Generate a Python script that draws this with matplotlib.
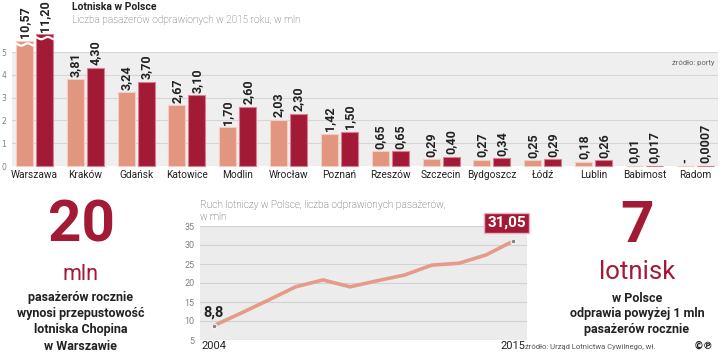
import numpy as np
import matplotlib
matplotlib.use("Agg")
import matplotlib.pyplot as plt

CRIMSON = "#A31A37"; SALMON = "#E2957F"; LINE_C = "#E59B87"; INK = "#222222"; GREY = "#808080"
SANS = ["Roboto", "DejaVu Sans"]

# bar chart data (mln passengers)
airports = ["Warszawa", "Kraków", "Gdańsk", "Katowice", "Modlin", "Wrocław", "Poznań",
            "Rzeszów", "Szczecin", "Bydgoszcz", "Łódź", "Lublin", "Babimost", "Radom"]
prev = [10.57, 3.81, 3.24, 2.67, 1.70, 2.03, 1.42, 0.65, 0.29, 0.27, 0.25, 0.18, 0.01, 0.0]
y2015 = [11.20, 4.30, 3.70, 3.10, 2.60, 2.30, 1.50, 0.65, 0.40, 0.34, 0.29, 0.26, 0.017, 0.0007]
prev_lbl = ["10,57", "3,81", "3,24", "2,67", "1,70", "2,03", "1,42", "0,65", "0,29", "0,27", "0,25", "0,18", "0,01", "-"]
y2015_lbl = ["11,20", "4,30", "3,70", "3,10", "2,60", "2,30", "1,50", "0,65", "0,40", "0,34", "0,29", "0,26", "0,017", "0,0007"]
waw_shown = [5.5, 5.78]   # Warszawa bars are cut off above the panel

# line chart data
years = list(range(2004, 2016))
traffic = [8.8, 12.1, 15.5, 19.0, 20.8, 19.0, 20.6, 22.1, 24.7, 25.2, 27.4, 31.05]

fig = plt.figure(figsize=(7.2, 3.53), dpi=100)

# ---- top: bars
ax = fig.add_axes([12/720, 1 - 166/353, 706/720, 114/353])
ax.set_facecolor("#efefef")
x = np.arange(len(airports))
h1 = np.array(prev, float); h2 = np.array(y2015, float)
h1[0], h2[0] = waw_shown
off, w = 0.197, 0.335
ax.bar(x - off, h1, w, color=SALMON, edgecolor="#f3cfc3", lw=0.8, clip_on=False, zorder=3)
ax.bar(x + off, h2, w, color=CRIMSON, edgecolor="#d9808f", lw=0.8, clip_on=False, zorder=3)
for xx, hh in ((x[0] - off, h1[0]), (x[0] + off, h2[0])):
    t = np.linspace(-w/2, w/2, 30)
    ax.plot(xx + t, hh - 0.17 + 0.05*np.sin(t/w*2*np.pi*1.3), color="white", lw=1.6, clip_on=False, zorder=4)
for i in range(len(airports)):
    for xx, hh, s in ((x[i] - off, h1[i], prev_lbl[i]), (x[i] + off, h2[i], y2015_lbl[i])):
        ax.text(xx, hh + 0.11, s, rotation=90, ha="center", va="bottom", fontsize=9,
                fontweight="bold", color=INK, family=SANS, clip_on=False, zorder=5)
ax.set_ylim(0, 5); ax.set_xlim(-0.443, 13.45)
ax.set_yticks(range(6))
ax.set_yticklabels([str(v) for v in range(6)], fontsize=5.5, color=GREY)
ax.tick_params(axis="y", length=0, pad=4)
ax.set_xticks(x); ax.set_xticklabels(airports, fontsize=7.3, color=INK, family=SANS)
ax.tick_params(axis="x", length=0, pad=3)
ax.grid(axis="y", color="#d6d6d6", lw=0.8, zorder=0); ax.set_axisbelow(True)
for s in ax.spines.values(): s.set_visible(False)
ax.text(0.995, 0.9, "źródło: porty", transform=ax.transAxes, ha="right", va="center",
        fontsize=5.5, color="#666666", family=SANS)

fig.text(72/720, 1 - 7/353, "Lotniska w Polsce", fontsize=7.5, fontweight="bold", color=INK, family=SANS, va="center")
fig.text(72/720, 1 - 20/353, "Liczba pasażerów odprawionych w 2015 roku, w mln", fontsize=7.2,
         fontweight="light", color="#555555", family=SANS, va="center")

# ---- bottom middle: line
lx = fig.add_axes([200/720, 13/353, 327/720, 114/353])
lx.set_facecolor("#ececec")
lx.plot(years, traffic, color=LINE_C, lw=2.6, solid_joinstyle="round", zorder=3)
lx.plot([years[0], years[-1]], [traffic[0], traffic[-1]], "o", ms=3.5, mfc="#888888", mec="white", mew=0.8, zorder=4)
lx.set_ylim(5, 35); lx.set_xlim(2003.485, 2015.5)
lx.set_yticks(range(5, 40, 5))
lx.set_yticklabels([str(v) for v in range(5, 40, 5)], fontsize=6.5, color=GREY, family=SANS)
lx.tick_params(axis="y", length=0, pad=4)
lx.set_xticks([years[0], years[-1]]); lx.set_xticklabels([str(years[0]), str(years[-1])], fontsize=8, color=INK, family=SANS)
lx.tick_params(axis="x", length=0, pad=1)
lx.grid(axis="y", color="#d2d2d2", lw=0.8, zorder=0); lx.set_axisbelow(True)
for s in lx.spines.values(): s.set_visible(False)
lx.annotate("8,8", (years[0], traffic[0]), xytext=(0, 9.5), textcoords="offset points", ha="center", va="center",
            fontsize=10.5, fontweight="bold", color=INK, family=SANS)
lx.annotate("31,05", (years[-1], traffic[-1]), xytext=(-5, 13), textcoords="offset points", ha="center", va="center",
            fontsize=11, fontweight="bold", color="white", family=SANS,
            bbox=dict(boxstyle="square,pad=0.2", fc=CRIMSON, ec="#e6b3bd", lw=1), annotation_clip=False)
fig.text(200/720, 1 - 205/353, "Ruch lotniczy w Polsce, liczba odprawionych pasażerów,", fontsize=7.3,
         fontweight="light", color="#444444", family=SANS, va="center")
fig.text(200/720, 1 - 217/353, "w mln", fontsize=7.3, fontweight="light", color="#444444", family=SANS, va="center")

# ---- side facts
def fact(cx, big, unit, unit_size, unit_y, lines):
    fig.text(cx/720, 1 - 226/353, big, fontsize=42, fontweight="bold", family=SANS, color=CRIMSON, ha="center", va="center")
    fig.text(cx/720, 1 - unit_y/353, unit, fontsize=unit_size, family=SANS, color=CRIMSON, ha="center", va="center")
    for k, s in enumerate(lines):
        fig.text(cx/720, 1 - (298 + 16*k)/353, s, fontsize=9, fontweight="bold", family=SANS, color=INK, ha="center", va="center")

fact(81, "20", "mln", 15.5, 275, ["pasażerów rocznie", "wynosi przepustowość", "lotniska Chopina", "w Warszawie"])
fact(637, "7", "lotnisk", 18.5, 272, ["w Polsce", "odprawia powyżej 1 mln", "pasażerów rocznie"])
fig.text(655/720, 1 - 347/353, "źródło: Urząd Lotnictwa Cywilnego, wł.", fontsize=5.5, color="#555555",
         family=SANS, ha="right", va="center")
fig.text(703/720, 1 - 346/353, "©℗", fontsize=7, fontweight="bold", color=INK, ha="center", va="center")

fig.savefig("out.png", dpi=100)
